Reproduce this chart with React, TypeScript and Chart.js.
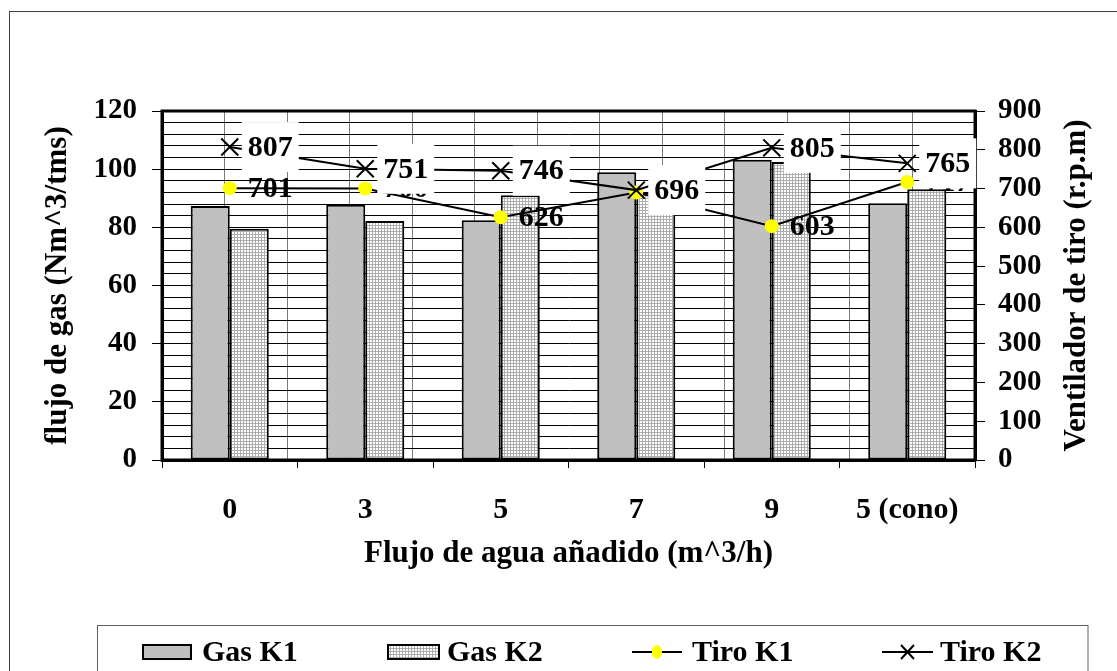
import React, { useEffect, useRef } from "react";
import { Chart, registerables } from "chart.js";

Chart.register(...registerables);

// ---- data ----
const categories = ["0", "3", "5", "7", "9", "5 (cono)"];
const gasK1 = [87.3, 87.8, 82.4, 98.9, 103.2, 88.3];
const gasK2 = [79.5, 82.2, 91.0, 92.0, 102.5, 93.1];
const tiroK1 = [701, 700, 626, 690, 603, 717];
const tiroK2 = [807, 751, 746, 696, 805, 765];
const seriesNames = ["Gas K1", "Gas K2", "Tiro K1", "Tiro K2"];
const gasRange = [0, 120];
const gasMajorStep = 20;
const gasMinorStep = 4;
const tiroRange = [0, 900];
const tiroStep = 100;
const xTitle = "Flujo de agua añadido (m^3/h)";
const yTitle = "flujo de gas (Nm^3/tms)";
const y1Title = "Ventilador de tiro (r.p.m)";

const FONT = "'Liberation Serif', 'Times New Roman', serif";
const W = 1117;
const H = 671;

function makePattern(): CanvasPattern | string {
  const c = document.createElement("canvas");
  c.width = 3;
  c.height = 3;
  const g = c.getContext("2d");
  if (!g) return "#d8d8d8";
  g.fillStyle = "#ffffff";
  g.fillRect(0, 0, 3, 3);
  g.fillStyle = "#adadad";
  g.fillRect(0, 0, 3, 1);
  g.fillRect(0, 0, 1, 3);
  return g.createPattern(c, "repeat") || "#d8d8d8";
}

const framePlugin = {
  id: "frame",
  beforeDraw(chart: any) {
    const { ctx } = chart;
    ctx.save();
    ctx.fillStyle = "#ffffff";
    ctx.fillRect(0, 0, chart.width, chart.height);
    ctx.restore();
  },
  beforeDatasetsDraw(chart: any) {
    const { ctx, chartArea: a } = chart;
    ctx.save();
    ctx.strokeStyle = "#000";
    ctx.lineWidth = 3;
    ctx.strokeRect(a.left, a.top, a.right - a.left, a.bottom - a.top);
    ctx.restore();
  },
};

const labelsPlugin = {
  id: "dataLabels",
  afterDatasetsDraw(chart: any) {
    const { ctx } = chart;
    ctx.save();
    ctx.font = `bold 30px ${FONT}`;
    ctx.textBaseline = "middle";
    ctx.textAlign = "left";
    const m1 = chart.getDatasetMeta(2);
    const v1 = chart.data.datasets[2].data as number[];
    ctx.fillStyle = "#000";
    m1.data.forEach((pt: any, i: number) => {
      ctx.fillText(String(v1[i]), pt.x + 18, pt.y + 1);
    });
    const m2 = chart.getDatasetMeta(3);
    const v2 = chart.data.datasets[3].data as number[];
    m2.data.forEach((pt: any, i: number) => {
      const t = String(v2[i]);
      const w = ctx.measureText(t).width;
      ctx.fillStyle = "#ffffff";
      ctx.fillRect(pt.x + 12, pt.y - 25, w + 12, 50);
      ctx.fillStyle = "#000";
      ctx.fillText(t, pt.x + 18, pt.y + 1);
    });
    ctx.restore();
  },
};

const rightTitlePlugin = {
  id: "rightTitle",
  afterDraw(chart: any) {
    const { ctx, chartArea: a } = chart;
    ctx.save();
    ctx.translate(1077, (a.top + a.bottom) / 2);
    ctx.rotate(-Math.PI / 2);
    ctx.font = `bold 31px ${FONT}`;
    ctx.textAlign = "center";
    ctx.textBaseline = "middle";
    ctx.fillStyle = "#000";
    ctx.fillText(y1Title, 0, 0);
    ctx.restore();
  },
};

const legendPlugin = {
  id: "boxLegend",
  afterDraw(chart: any) {
    const { ctx } = chart;
    const ds = chart.data.datasets;
    ctx.save();
    // outer border
    ctx.strokeStyle = "#404040";
    ctx.lineWidth = 1;
    ctx.strokeRect(9.5, 11.5, 1300, 800);
    // legend box
    ctx.strokeStyle = "#606060";
    ctx.strokeRect(97.5, 625.5, 990.5, 200);
    const cy = 652;
    ctx.font = `bold 30px ${FONT}`;
    ctx.textBaseline = "middle";
    ctx.textAlign = "left";
    // Gas K1
    ctx.fillStyle = ds[0].backgroundColor;
    ctx.fillRect(142, 644, 50, 16);
    ctx.strokeStyle = "#000";
    ctx.lineWidth = 2;
    ctx.strokeRect(143, 645, 48, 14);
    ctx.fillStyle = "#000";
    ctx.fillText(ds[0].label, 202, cy + 1);
    // Gas K2
    ctx.fillStyle = ds[1].backgroundColor;
    ctx.fillRect(387, 644, 53, 16);
    ctx.strokeRect(388, 645, 51, 14);
    ctx.fillStyle = "#000";
    ctx.fillText(ds[1].label, 447, cy + 1);
    // Tiro K1
    ctx.beginPath();
    ctx.moveTo(632, cy);
    ctx.lineTo(682, cy);
    ctx.lineWidth = 2;
    ctx.strokeStyle = "#000";
    ctx.stroke();
    ctx.beginPath();
    ctx.fillStyle = ds[2].pointBackgroundColor;
    ctx.ellipse(657, cy, 5, 7, 0, 0, Math.PI * 2);
    ctx.fill();
    ctx.fillStyle = "#000";
    ctx.fillText(ds[2].label, 692, cy + 1);
    // Tiro K2
    ctx.beginPath();
    ctx.moveTo(882, cy);
    ctx.lineTo(933, cy);
    ctx.moveTo(901, cy - 7);
    ctx.lineTo(914, cy + 7);
    ctx.moveTo(914, cy - 7);
    ctx.lineTo(901, cy + 7);
    ctx.stroke();
    ctx.fillText(ds[3].label, 940, cy + 1);
    ctx.restore();
  },
};

export default function App() {
  const ref = useRef<HTMLCanvasElement | null>(null);

  useEffect(() => {
    if (!ref.current) return;
    const pattern = makePattern();
    const tickFont = { family: FONT, size: 29, weight: "bold" as const };
    const titleFont = { family: FONT, size: 31, weight: "bold" as const };
    const chart = new Chart(ref.current, {
      type: "bar",
      data: {
        labels: categories,
        datasets: [
          {
            type: "bar",
            label: seriesNames[0],
            data: gasK1,
            backgroundColor: "#c0c0c0",
            borderColor: "#000",
            borderWidth: 2,
            borderSkipped: false,
            xAxisID: "x",
            yAxisID: "y",
            order: 2,
            categoryPercentage: 0.576,
            barPercentage: 1,
          },
          {
            type: "bar",
            label: seriesNames[1],
            data: gasK2,
            backgroundColor: pattern as any,
            borderColor: "#000",
            borderWidth: 2,
            borderSkipped: false,
            xAxisID: "x",
            yAxisID: "y",
            order: 2,
            categoryPercentage: 0.576,
            barPercentage: 1,
          },
          {
            type: "line",
            label: seriesNames[2],
            data: tiroK1,
            borderColor: "#000",
            borderWidth: 2,
            pointStyle: "circle",
            pointRadius: 7,
            pointBackgroundColor: "#ffff00",
            pointBorderColor: "#ffff00",
            pointBorderWidth: 0,
            tension: 0,
            fill: false,
            xAxisID: "x",
            yAxisID: "y1",
            order: 1,
          },
          {
            type: "line",
            label: seriesNames[3],
            data: tiroK2,
            borderColor: "#000",
            borderWidth: 2,
            pointStyle: "crossRot",
            pointRadius: 12,
            pointBorderColor: "#000",
            pointBorderWidth: 2,
            tension: 0,
            fill: false,
            xAxisID: "x",
            yAxisID: "y1",
            order: 0,
          },
        ] as any,
      },
      options: {
        animation: false,
        responsive: false,
        maintainAspectRatio: false,
        layout: { padding: { left: 0, right: 0, top: 111, bottom: 96 } },
        plugins: {
          legend: { display: false },
          tooltip: { enabled: false },
        },
        scales: {
          x: {
            type: "category",
            position: "bottom",
            offset: true,
            grid: {
              display: true,
              drawOnChartArea: false,
              drawTicks: true,
              tickLength: 8,
              color: "#000",
              offset: true,
              lineWidth: 1,
            },
            border: { display: true, color: "#000", width: 3 },
            ticks: {
              font: { family: FONT, size: 30, weight: "bold" },
              color: "#000",
              padding: 24,
              maxRotation: 0,
              autoSkip: false,
            },
            title: {
              display: true,
              text: xTitle,
              font: titleFont,
              color: "#000",
              padding: { top: 0, bottom: 2 },
            },
            afterFit: (s: any) => {
              s.height = 115;
            },
          },
          xg: {
            type: "linear",
            position: "bottom",
            min: -0.5,
            max: categories.length - 0.5,
            ticks: { display: false, stepSize: 0.5 },
            grid: { color: "#7a7a7a", lineWidth: 1, drawTicks: false },
            border: { display: false },
            afterFit: (s: any) => {
              s.height = 0;
            },
          },
          y: {
            type: "linear",
            position: "left",
            min: gasRange[0],
            max: gasRange[1],
            ticks: {
              stepSize: gasMinorStep,
              autoSkip: false,
              font: tickFont,
              color: "#000",
              padding: 15,
              callback: (v: any) =>
                Math.abs(Number(v) % gasMajorStep) < 1e-6 ? String(v) : "",
            },
            grid: {
              color: "#000",
              lineWidth: 1,
              drawTicks: true,
              tickLength: 10,
              tickColor: (c: any) =>
                c.tick && Math.abs(c.tick.value % gasMajorStep) < 1e-6
                  ? "#000"
                  : "rgba(0,0,0,0)",
            },
            border: { display: true, color: "#000", width: 3 },
            title: {
              display: true,
              text: yTitle,
              font: titleFont,
              color: "#000",
              padding: { top: 39, bottom: 0 },
            },
            afterFit: (s: any) => {
              s.width = 162;
            },
          },
          y1: {
            type: "linear",
            position: "right",
            min: tiroRange[0],
            max: tiroRange[1],
            ticks: {
              stepSize: tiroStep,
              font: tickFont,
              color: "#000",
              padding: 13,
            },
            grid: {
              drawOnChartArea: false,
              drawTicks: true,
              tickLength: 10,
              color: "#000",
            },
            border: { display: true, color: "#000", width: 3 },
            title: { display: false, text: y1Title },
            afterFit: (s: any) => {
              s.width = 142;
            },
          },
        },
      } as any,
      plugins: [framePlugin, labelsPlugin, rightTitlePlugin, legendPlugin],
    });
    return () => chart.destroy();
  }, []);

  return (
    <div
      style={{
        position: "fixed",
        left: 0,
        top: 0,
        width: W,
        height: H,
        background: "#fff",
      }}
    >
      <canvas ref={ref} width={W} height={H} style={{ display: "block" }} />
    </div>
  );
}
